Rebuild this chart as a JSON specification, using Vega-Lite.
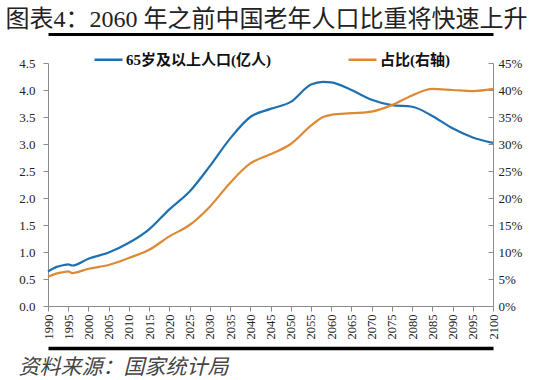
{
  "$schema": "https://vega.github.io/schema/vega-lite/v6.json",
  "width": 445,
  "height": 243,
  "autosize": "none",
  "padding": {"left": 48, "top": 63, "right": 57, "bottom": 74},
  "background": "white",
  "config": {
    "view": {"stroke": null},
    "axis": {"grid": false, "labelFont": "Liberation Serif", "labelFontSize": 13, "labelColor": "#222222", "domainColor": "#8c8c8c", "tickColor": "#8c8c8c"}
  },
  "data": {
    "values": [
      {"year": 1990, "pop": 0.64, "share": 0.054},
      {"year": 1992, "pop": 0.72, "share": 0.060},
      {"year": 1994, "pop": 0.76, "share": 0.063},
      {"year": 1995, "pop": 0.77, "share": 0.064},
      {"year": 1996, "pop": 0.75, "share": 0.061},
      {"year": 2000, "pop": 0.875, "share": 0.069},
      {"year": 2005, "pop": 0.99, "share": 0.076},
      {"year": 2010, "pop": 1.17, "share": 0.089},
      {"year": 2015, "pop": 1.42, "share": 0.104},
      {"year": 2020, "pop": 1.79, "share": 0.129},
      {"year": 2025, "pop": 2.12, "share": 0.150},
      {"year": 2030, "pop": 2.59, "share": 0.184},
      {"year": 2035, "pop": 3.10, "share": 0.228},
      {"year": 2040, "pop": 3.50, "share": 0.264},
      {"year": 2045, "pop": 3.65, "share": 0.281},
      {"year": 2050, "pop": 3.78, "share": 0.300},
      {"year": 2055, "pop": 4.10, "share": 0.334},
      {"year": 2058, "pop": 4.15, "share": 0.350},
      {"year": 2060, "pop": 4.14, "share": 0.354},
      {"year": 2065, "pop": 4.00, "share": 0.357},
      {"year": 2070, "pop": 3.82, "share": 0.360},
      {"year": 2075, "pop": 3.72, "share": 0.372},
      {"year": 2080, "pop": 3.69, "share": 0.390},
      {"year": 2085, "pop": 3.52, "share": 0.402},
      {"year": 2090, "pop": 3.29, "share": 0.400},
      {"year": 2095, "pop": 3.12, "share": 0.398},
      {"year": 2100, "pop": 3.02, "share": 0.402}
    ]
  },
  "layer": [
    {
      "mark": {"type": "line", "interpolate": "monotone", "strokeWidth": 2.2},
      "encoding": {
        "x": {
          "field": "year", "type": "quantitative",
          "scale": {"domain": [1990, 2100], "nice": false, "zero": false},
          "axis": {"values": [1990, 1995, 2000, 2005, 2010, 2015, 2020, 2025, 2030, 2035, 2040, 2045, 2050, 2055, 2060, 2065, 2070, 2075, 2080, 2085, 2090, 2095, 2100], "format": "d", "labelAngle": 270, "labelFontSize": 12.5, "tickSize": 5, "labelPadding": 3, "title": null}
        },
        "y": {
          "field": "pop", "type": "quantitative",
          "scale": {"domain": [0, 4.5], "nice": false},
          "axis": {"orient": "left", "values": [0, 0.5, 1, 1.5, 2, 2.5, 3, 3.5, 4, 4.5], "format": ".1f", "tickSize": 5, "labelPadding": 8, "title": null}
        },
        "color": {
          "datum": "65岁及以上人口(亿人)", "type": "nominal",
          "scale": {"domain": ["65岁及以上人口(亿人)", "占比(右轴)"], "range": ["#1f70b0", "#dd8a35"]},
          "legend": {"orient": "none", "legendX": 45, "legendY": -19, "direction": "horizontal", "title": null, "symbolType": "stroke", "symbolSize": 784, "symbolStrokeWidth": 2.5, "labelFont": "Liberation Serif, Noto Sans CJK SC", "labelFontSize": 15, "labelFontWeight": "bold", "labelColor": "#111111", "columnPadding": 72, "labelOffset": 2, "labelLimit": 300}
        }
      }
    },
    {
      "mark": {"type": "line", "interpolate": "monotone", "strokeWidth": 2.2},
      "encoding": {
        "x": {"field": "year", "type": "quantitative", "scale": {"domain": [1990, 2100], "nice": false, "zero": false}, "axis": null},
        "y": {
          "field": "share", "type": "quantitative",
          "scale": {"domain": [0, 0.45], "nice": false},
          "axis": {"orient": "right", "values": [0, 0.05, 0.1, 0.15, 0.2, 0.25, 0.3, 0.35, 0.4, 0.45], "format": ".0%", "tickSize": -5, "labelPadding": 10, "title": null}
        },
        "color": {"datum": "占比(右轴)", "type": "nominal"}
      }
    },
    {
      "mark": {"type": "point", "opacity": 0},
      "encoding": {
        "x": {
          "field": "year", "type": "quantitative",
          "scale": {"domain": [1990, 2100], "nice": false, "zero": false},
          "axis": {"orient": "top", "offset": 29, "domain": true, "domainColor": "#000000", "domainWidth": 3, "domainOpacity": 1, "ticks": false, "labels": false, "title": "图表4：2060 年之前中国老年人口比重将快速上升", "titleX": -43, "titleY": -8, "titleAlign": "left", "titleBaseline": "alphabetic", "titleFont": "Liberation Serif, Noto Sans CJK SC", "titleFontSize": 24, "titleFontWeight": "normal", "titleColor": "#222222"}
        }
      }
    },
    {
      "mark": {"type": "point", "opacity": 0},
      "encoding": {
        "x": {
          "field": "year", "type": "quantitative",
          "scale": {"domain": [1990, 2100], "nice": false, "zero": false},
          "axis": {"orient": "bottom", "offset": 42, "domain": true, "domainColor": "#000000", "domainWidth": 3.5, "domainOpacity": 1, "ticks": false, "labels": false, "title": "资料来源：国家统计局", "titleX": -30, "titleY": 25, "titleAlign": "left", "titleBaseline": "alphabetic", "titleFont": "Liberation Serif, Noto Sans CJK SC", "titleFontSize": 21, "titleFontWeight": "normal", "titleFontStyle": "italic", "titleColor": "#444444"}
        }
      }
    }
  ],
  "resolve": {"scale": {"x": "independent", "y": "independent"}, "axis": {"x": "independent", "y": "independent"}}
}
